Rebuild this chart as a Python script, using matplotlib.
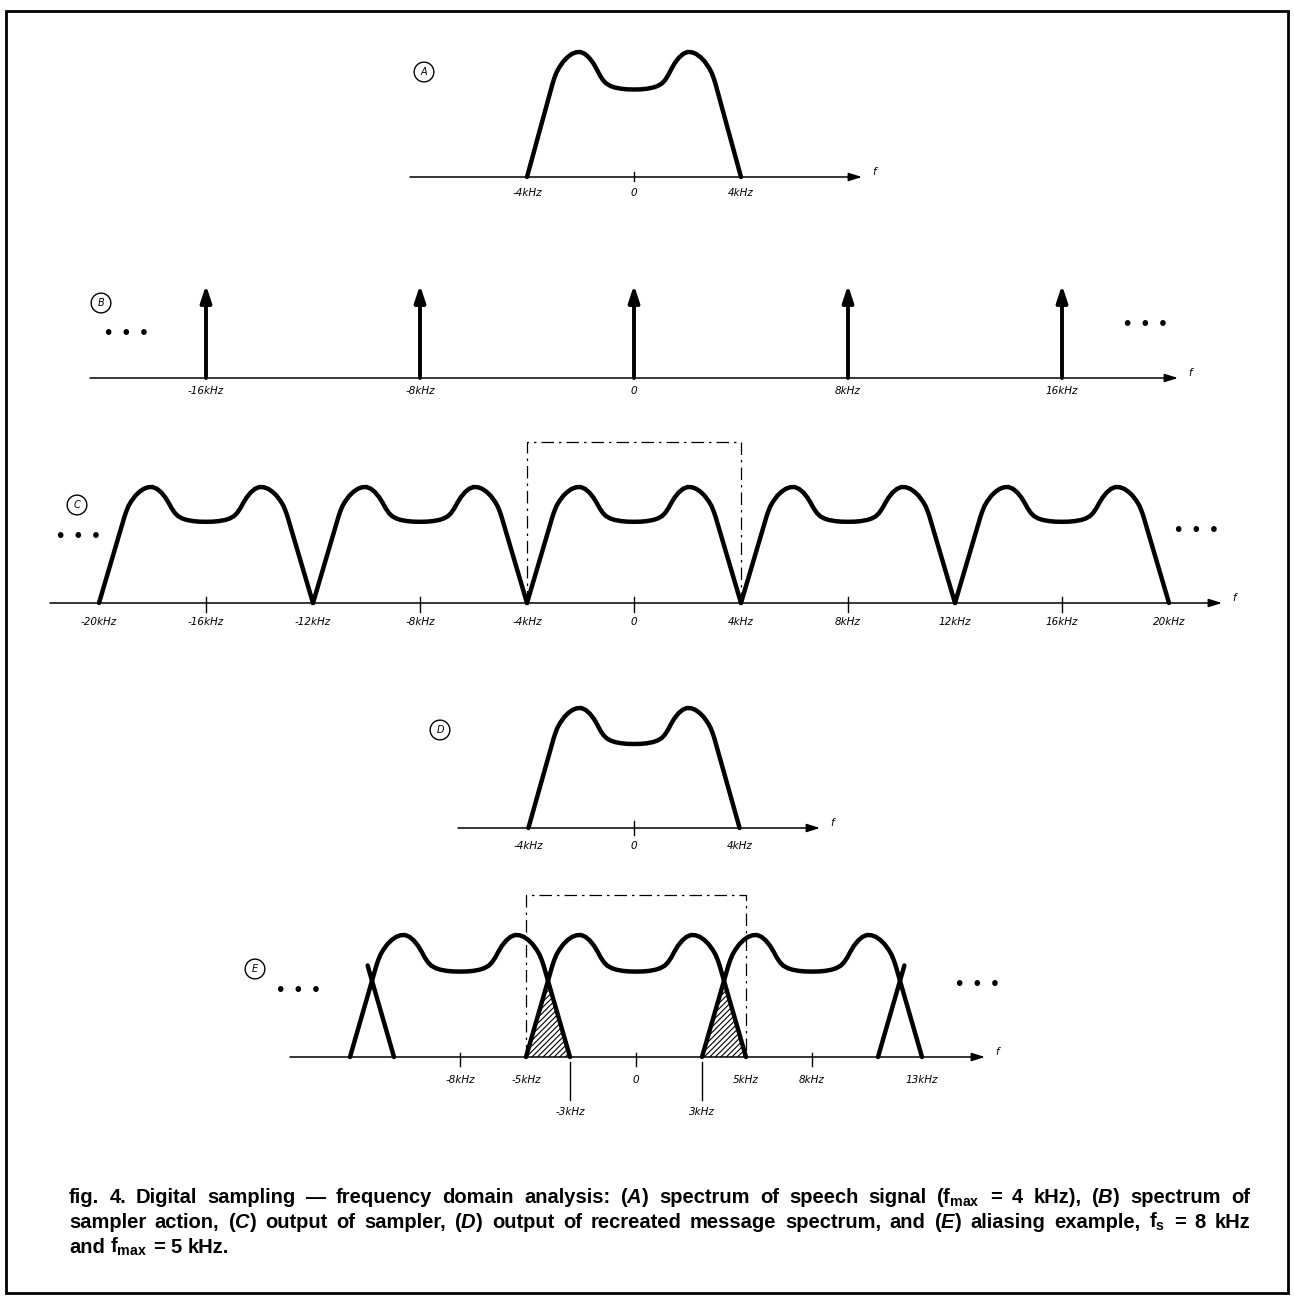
import numpy as np
import matplotlib
matplotlib.use('Agg')
import matplotlib.pyplot as plt
from matplotlib.patches import Rectangle

# spectrum outline (right half, mirrored): u = f / fmax, h = relative level
shape_u = [0.00, 0.06, 0.12, 0.18, 0.22, 0.26, 0.29, 0.32, 0.35, 0.38, 0.42, 0.46,
           0.50, 0.54, 0.58, 0.62, 0.66, 0.70, 0.725, 0.745, 0.76, 1.00]
shape_h = [0.70, 0.701, 0.706, 0.716, 0.728, 0.748, 0.775, 0.815, 0.865, 0.91, 0.955, 0.985,
           1.00, 0.998, 0.985, 0.96, 0.925, 0.875, 0.835, 0.79, 0.75, 0.00]

# (A) speech spectrum
fmax_a = 4
a_ticks = [-4, 0, 4]
a_labels = ['-4kHz', '0', '4kHz']

# (B) sampler impulses
impulse_freqs = [-16, -8, 0, 8, 16]
b_labels = ['-16kHz', '-8kHz', '0', '8kHz', '16kHz']

# (C) sampler output
copy_centers = [-16, -8, 0, 8, 16]
c_ticks = [-20, -16, -12, -8, -4, 0, 4, 8, 12, 16, 20]
c_labels = ['-20kHz', '-16kHz', '-12kHz', '-8kHz', '-4kHz', '0',
            '4kHz', '8kHz', '12kHz', '16kHz', '20kHz']
c_marks = [-16, -8, 0, 8, 16]
c_window = 1.39

# (D) recreated message
d_ticks = [-4, 0, 4]
d_labels = ['-4kHz', '0', '4kHz']

# (E) aliasing, fs = 8 kHz, fmax = 5 kHz
fs_e = 8
fmax_e = 5
e_centers = [-8, 0, 8]
e_ticks = [-8, -5, 0, 5, 8, 13]
e_labels = ['-8kHz', '-5kHz', '0', '5kHz', '8kHz', '13kHz']
e_marks = [-8, 0, 8]
e_low_ticks = [-3, 3]
e_low_labels = ['-3kHz', '3kHz']
e_window = 1.33

caption_lines = [
    r'fig. 4. Digital sampling — frequency domain analysis: ($\mathit{A}$) spectrum of speech signal (f$_{\mathrm{max}}$ = 4 kHz), ($\mathit{B}$) spectrum of',
    r'sampler action, ($\mathit{C}$) output of sampler, ($\mathit{D}$) output of recreated message spectrum, and ($\mathit{E}$) aliasing example, f$_{\mathrm{s}}$ = 8 kHz',
    r'and f$_{\mathrm{max}}$ = 5 kHz.',
]

plt.rcParams['mathtext.fontset'] = 'custom'
plt.rcParams['mathtext.rm'] = 'Liberation Sans:bold'
plt.rcParams['mathtext.it'] = 'Liberation Sans:italic:bold'
plt.rcParams['mathtext.bf'] = 'Liberation Sans:bold'
plt.rcParams['hatch.linewidth'] = 0.8

W, H = 1294, 1297
fig = plt.figure(figsize=(W / 100, H / 100), dpi=100)
LW = 3.2
LBL = dict(fontsize=7.5, style='italic', ha='center', va='center', family='DejaVu Sans')


def panel(left, right, top, bottom, zero_x, base_y, kpx, hpx):
    ax = fig.add_axes([left / W, 1 - bottom / H, (right - left) / W, (bottom - top) / H])
    ax.set_xlim((left - zero_x) / kpx, (right - zero_x) / kpx)
    ax.set_ylim((base_y - bottom) / hpx, (base_y - top) / hpx)
    ax.axis('off')
    return ax


def spectrum(center, fmax):
    u = np.concatenate([-np.array(shape_u[::-1]), np.array(shape_u[1:])])
    h = np.concatenate([shape_h[::-1], shape_h[1:]])
    return center + fmax * u, h


def draw(ax, x, y):
    ax.plot(x, y, color='k', lw=LW, solid_joinstyle='round', solid_capstyle='round')


def freq_axis(ax, px0, px1, zero_x, kpx):
    x0, x1 = (px0 - zero_x) / kpx, (px1 - zero_x) / kpx
    ax.annotate('', xy=(x1, 0), xytext=(x0, 0),
                arrowprops=dict(arrowstyle='-|>,head_length=0.8,head_width=0.25',
                                mutation_scale=10, lw=1.1, color='k',
                                shrinkA=0, shrinkB=0))
    ax.annotate('f', xy=(x1, 0), xytext=(12, 5), textcoords='offset pixels', **LBL)


def tick_labels(ax, ticks, labels, offset):
    for t, s in zip(ticks, labels):
        ax.annotate(s, xy=(t, 0), xytext=(0, -offset), textcoords='offset pixels', **LBL)


def tick_marks(ax, ticks, up, down, hpx):
    for t in ticks:
        ax.plot([t, t], [up / hpx, -down / hpx], color='k', lw=1.0)


def badge(x, y, letter):
    fig.text(x / W, 1 - y / H, letter, fontsize=7, style='italic', ha='center', va='center',
             bbox=dict(boxstyle='circle,pad=0.5', fc='white', ec='k', lw=1.0))


def dots(x, y):
    fig.text(x / W, 1 - y / H, '• • •', fontsize=14, ha='center', va='center')


# ---- (A)
ax = panel(400, 890, 30, 205, 634, 177, 26.75, 125)
freq_axis(ax, 410, 862, 634, 26.75)
draw(ax, *spectrum(0, fmax_a))
tick_marks(ax, [0], 5, 4, 125)
tick_labels(ax, a_ticks, a_labels, 16)
badge(424, 72, 'A')

# ---- (B)
ax = panel(80, 1210, 265, 400, 634, 378, 26.75, 93)
freq_axis(ax, 90, 1178, 634, 26.75)
for f in impulse_freqs:
    ax.annotate('', xy=(f, 1), xytext=(f, 0),
                arrowprops=dict(arrowstyle='-|>,head_length=0.55,head_width=0.18',
                                mutation_scale=18, lw=2.8, color='k',
                                shrinkA=0, shrinkB=0))
tick_labels(ax, impulse_freqs, b_labels, 13)
badge(101, 303, 'B')
dots(126, 333)
dots(1145, 325)

# ---- (C)
ax = panel(40, 1250, 425, 635, 634, 603, 26.75, 116)
freq_axis(ax, 50, 1222, 634, 26.75)
for c in copy_centers:
    draw(ax, *spectrum(c, fmax_a))
ax.plot([-fmax_a, -fmax_a, fmax_a, fmax_a], [0, c_window, c_window, 0],
        color='k', lw=0.9, ls=(0, (10, 4, 2, 4)))
tick_marks(ax, c_marks, 6, 9, 116)
tick_labels(ax, c_ticks, c_labels, 19)
badge(77, 505, 'C')
dots(78, 537)
dots(1196, 530)

# ---- (D)
ax = panel(440, 850, 690, 860, 634, 828, 26.4, 120)
freq_axis(ax, 458, 820, 634, 26.4)
draw(ax, *spectrum(0, fmax_a))
tick_marks(ax, [0], 7, 7, 120)
tick_labels(ax, d_ticks, d_labels, 18)
badge(440, 730, 'D')

# ---- (E)
KE, HE = 22.0, 122
ax = panel(280, 1015, 880, 1125, 636, 1057, KE, HE)
freq_axis(ax, 290, 985, 636, KE)
curves = {}
for c in e_centers:
    curves[c] = spectrum(c, fmax_e)
    draw(ax, *curves[c])
# neighbouring copies at +-2fs: only their skirts are drawn
edge_u = np.array(shape_u[-2:])
edge_h = np.array(shape_h[-2:])
draw(ax, -2 * fs_e + fmax_e * edge_u, edge_h)
draw(ax, 2 * fs_e - fmax_e * edge_u, edge_h)
# overlap (aliased) regions
for lo, hi in [(-fs_e, 0), (0, fs_e)]:
    xs = np.linspace(hi - fmax_e, lo + fmax_e, 200)
    y1 = np.interp(xs, *curves[lo])
    y2 = np.interp(xs, *curves[hi])
    ax.fill_between(xs, 0, np.minimum(y1, y2), facecolor='none', edgecolor='k',
                    hatch='//////', linewidth=0)
ax.plot([-fmax_e, -fmax_e, fmax_e, fmax_e], [0, e_window, e_window, 0],
        color='k', lw=0.9, ls=(0, (10, 4, 2, 4)))
tick_marks(ax, e_marks, 4, 9, HE)
tick_labels(ax, e_ticks, e_labels, 23)
for t in e_low_ticks:
    ax.plot([t, t], [-5 / HE, -43 / HE], color='k', lw=1.0)
tick_labels(ax, e_low_ticks, e_low_labels, 55)
badge(255, 969, 'E')
dots(298, 990)
dots(977, 985)

# ---- caption (justified)
renderer = fig.canvas.get_renderer()
cap_font = dict(fontsize=14.5, family='Liberation Sans', weight='bold', va='baseline')
x_left, x_right = 69, 1250
baselines = [1203, 1228, 1253]
for i, line in enumerate(caption_lines):
    words = line.split(' ')
    texts = [fig.text(0, 1 - baselines[i] / H, w, **cap_font) for w in words]
    widths = [t.get_window_extent(renderer).width for t in texts]
    space = texts[0].get_fontsize() * 100 / 72 * 0.278
    if i < len(caption_lines) - 1:
        space = (x_right - x_left - sum(widths)) / (len(words) - 1)
    x = x_left
    for t, w in zip(texts, widths):
        t.set_x(x / W)
        x += w + space

# frame
fig.add_artist(Rectangle((6 / W, 1 - 1293 / H), 1282 / W, 1282 / H,
                         transform=fig.transFigure, fill=False, ec='k', lw=2.0))

fig.savefig('out.png', dpi=100)
